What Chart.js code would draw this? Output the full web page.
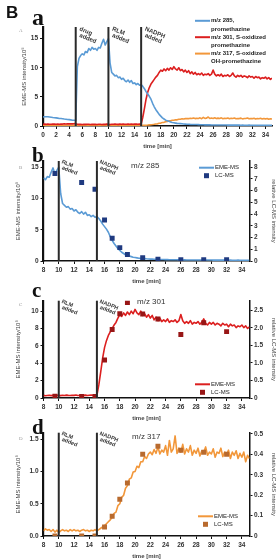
<!DOCTYPE html>
<html><head><meta charset="utf-8">
<script src="https://cdn.jsdelivr.net/npm/chart.js@4.4.1/dist/chart.umd.min.js"></script>
<style>
html,body{margin:0;padding:0;background:#fff;width:277px;height:559px;overflow:hidden;position:relative;}
canvas{position:absolute;left:0;display:block;}
</style></head><body>
<canvas id="ca" width="277" height="150" style="top:0px"></canvas>
<canvas id="cb" width="277" height="145" style="top:140px"></canvas>
<canvas id="cc" width="277" height="142" style="top:280px"></canvas>
<canvas id="cd" width="277" height="142" style="top:418px"></canvas>
<script>
// ---------------- data ----------------
const timeMin = [
 0,0.25,0.5,0.75, 1,1.25,1.5,1.75, 2,2.25,2.5,2.75, 3,3.25,3.5,3.75, 4,4.25,4.5,4.75,
 5,5.25,5.5,5.75, 6,6.25,6.5,6.75, 7,7.25,7.5,7.75, 8,8.25,8.5,8.75, 9,9.25,9.5,9.75,
 10,10.25,10.5,10.75, 11,11.25,11.5,11.75, 12,12.25,12.5,12.75, 13,13.25,13.5,13.75, 14,14.25,14.5,14.75,
 15,15.25,15.5,15.75, 16,16.25,16.5,16.75, 17,17.25,17.5,17.75, 18,18.25,18.5,18.75, 19,19.25,19.5,19.75,
 20,20.25,20.5,20.75, 21,21.25,21.5,21.75, 22,22.25,22.5,22.75, 23,23.25,23.5,23.75, 24,24.25,24.5,24.75,
 25,25.25,25.5,25.75, 26,26.25,26.5,26.75, 27,27.25,27.5,27.75, 28,28.25,28.5,28.75, 29,29.25,29.5,29.75,
 30,30.25,30.5,30.75, 31,31.25,31.5,31.75, 32,32.25,32.5,32.75, 33,33.25,33.5,33.75, 34,34.25,34.5,34.75,
 35];

// EME-MS m/z 285 (promethazine), intensity / 10^5
const mz285 = [
 1.55,1.6,1.58,1.6, 1.55,1.5,1.45,1.42, 1.4,1.35,1.3,1.28, 1.25,1.2,1.16,1.12, 1.1,1.05,1.0,0.98,
 0.95,10.2,11.6,12.1, 12.4,12.2,12.8,12.6, 13.3,13.0,13.5,13.2, 13.3,13.0,13.5,13.4, 14.2,14.9,13.9,14.5,
 15.0,10.8,9.2,8.9, 8.6,8.7,8.3,8.4, 8.0,8.2,7.8,7.6, 7.9,7.5,7.8,7.3, 7.4,7.1,7.3,7.0,
 7.1,6.8,6.4,5.9, 5.5,5.1,4.6,3.9, 3.3,2.8,2.4,2.0, 1.7,1.4,1.2,1.0, 0.9,0.8,0.7,0.6,
 0.55,0.5,0.45,0.42, 0.4,0.38,0.35,0.33, 0.3,0.3,0.28,0.27, 0.26,0.25,0.25,0.24, 0.22,0.22,0.21,0.2,
 0.2,0.19,0.2,0.18, 0.18,0.17,0.18,0.17, 0.17,0.16,0.17,0.16, 0.16,0.15,0.16,0.15, 0.15,0.15,0.16,0.15,
 0.15,0.14,0.15,0.14, 0.14,0.14,0.15,0.14, 0.14,0.13,0.14,0.13, 0.13,0.13,0.14,0.13, 0.13,0.12,0.13,0.12,
 0.12];

// EME-MS m/z 301 (S-oxidized promethazine)
const mz301 = [
 0.3,0.32,0.3,0.33, 0.31,0.3,0.34,0.32, 0.3,0.33,0.31,0.35, 0.33,0.36,0.34,0.37, 0.36,0.38,0.37,0.4,
 0.38,0.3,0.28,0.3, 0.27,0.3,0.28,0.31, 0.29,0.27,0.3,0.28, 0.3,0.26,0.29,0.31, 0.27,0.3,0.28,0.32,
 0.3,0.27,0.31,0.29, 0.33,0.3,0.28,0.32, 0.3,0.34,0.29,0.31, 0.35,0.3,0.33,0.29, 0.32,0.35,0.3,0.34,
 0.3,1.5,3.0,4.6, 5.8,6.6,7.2,7.6, 8.0,8.4,8.7,9.2, 9.6,9.4,9.8,9.5, 9.9,9.6,10.0,9.7,
 10.2,9.8,9.6,10.0, 9.5,9.7,9.3,9.6, 9.2,9.5,9.0,9.3, 8.9,9.2,8.8,9.0, 8.8,9.1,8.7,8.9,
 8.8,9.0,8.7,8.9, 9.6,8.9,8.6,8.8, 8.6,8.9,8.5,8.7, 8.6,8.8,8.5,8.7, 9.1,8.6,8.4,8.7,
 8.5,8.7,8.4,8.6, 8.5,8.3,8.6,8.4, 8.5,8.2,8.5,8.3, 8.4,8.1,8.3,8.2, 8.4,8.1,8.3,8.0,
 8.2];

// EME-MS m/z 317 (S-oxidized OH-promethazine)
const mz317 = [
 0.1,0.11,0.1,0.12, 0.11,0.1,0.12,0.11, 0.12,0.1,0.11,0.13, 0.12,0.11,0.13,0.12, 0.11,0.13,0.12,0.1,
 0.12,0.09,0.1,0.08, 0.1,0.09,0.11,0.08, 0.1,0.12,0.09,0.1, 0.08,0.11,0.09,0.1, 0.07,0.1,0.06,0.09,
 0.05,0.08,0.1,0.08, 0.09,0.07,0.1,0.08, 0.1,0.08,0.09,0.07, 0.09,0.1,0.08,0.09, 0.07,0.09,0.08,0.1,
 0.08,0.1,0.12,0.14, 0.16,0.19,0.22,0.25, 0.29,0.35,0.37,0.47, 0.5,0.6,0.63,0.74, 0.78,0.88,0.9,0.99,
 1.0,1.08,1.06,1.15, 1.15,1.23,1.2,1.27, 1.3,1.26,1.34,1.28, 1.38,1.27,1.33,1.3, 1.4,1.25,1.48,1.3,
 1.35,1.55,1.28,1.36, 1.3,1.42,1.27,1.35, 1.3,1.4,1.25,1.33, 1.28,1.36,1.24,1.32, 1.3,1.38,1.25,1.3,
 1.27,1.35,1.22,1.3, 1.28,1.36,1.23,1.3, 1.26,1.33,1.2,1.3, 1.25,1.32,1.2,1.28, 1.22,1.3,1.15,1.25,
 1.2];

// LC-MS relative intensities
const lcTimes = [9.5, 13, 14.75, 16, 17, 18, 19, 21, 23, 26, 29, 32];
const lc285 = [7.46, 6.7, 6.12, 3.5, 1.94, 1.14, 0.55, 0.29, 0.15, 0.1, 0.1, 0.1];
const lc301 = [0.05, 0.04, 0.04, 1.08, 1.95, 2.4, 2.72, 2.39, 2.25, 1.81, 2.14, 1.89];
const lc317 = [0.0, 0.0, 0.0, 0.044, 0.097, 0.18, 0.26, 0.40, 0.44, 0.42, 0.41, 0.40];

// event times and labels
const eventsA = [{at:5, lines:['drug','added']}, {at:10, lines:['RLM','added']}, {at:15, lines:['NADPH','added']}];
const eventsB = [{at:10, lines:['RLM','added']}, {at:15, lines:['NADPH','added']}];

// ---------------- styling ----------------
Chart.defaults.font.family = "'Liberation Sans', Arial, sans-serif";
Chart.defaults.color = '#333';
Chart.defaults.animation = false;
const BLUE = '#5b9bd5', RED = '#dc1f1f', ORANGE = '#f2973a';
const LC_BLUE = '#1f3a80', LC_RED = '#981616', LC_ORANGE = '#b86a2e';
const FONT = "'Liberation Sans', Arial, sans-serif";

function series(ys, tmin) {
  const out = [];
  timeMin.forEach((t, i) => { if (t >= tmin) out.push({x: t, y: ys[i]}); });
  return out;
}
function lcSeries(ys) { return lcTimes.map((t, i) => ({x: t, y: ys[i]})); }

function xScale(min, max) {
  return {
    type: 'linear', min, max,
    ticks: {stepSize: 2, autoSkip: false, maxRotation: 0, includeBounds: false, padding: 2,
            font: {size: 6.5, weight: 'bold'}, color: '#333'},
    grid: {drawOnChartArea: false, drawTicks: true, tickLength: 3, color: '#111', lineWidth: 1},
    border: {display: true, color: '#111', width: 1.5},
    title: {display: true, text: 'time [min]', font: {size: 6, weight: 'bold'}, color: '#444', padding: {top: 0, bottom: 0.5}},
    afterFit(s) { s.height = 24; }
  };
}
function yLeft(max, step, titlePad, width, fmt) {
  const t = {stepSize: step, includeBounds: false, padding: 2, font: {size: 6.5, weight: 'bold'}, color: '#333'};
  if (fmt) t.callback = fmt;
  return {
    type: 'linear', position: 'left', min: 0, max, ticks: t,
    grid: {drawOnChartArea: false, tickLength: 3, color: '#111'},
    border: {color: '#111', width: 2.2},
    title: {display: true, text: 'EME-MS intensity/10\u2075', font: {size: 6}, color: '#444', padding: {top: titlePad, bottom: 0}},
    afterFit(s) { s.width = width; }
  };
}
function yRight(max, step, fmt) {
  const t = {stepSize: step, includeBounds: false, padding: 1.5, font: {size: 6.5, weight: 'bold'}, color: '#333'};
  if (fmt) t.callback = fmt;
  return {
    type: 'linear', position: 'right', min: 0, max, ticks: t,
    grid: {drawOnChartArea: false, tickLength: 3, color: '#111'},
    border: {color: '#111', width: 1.5},
    title: {display: true, text: 'relative LC-MS intensity', font: {size: 6}, color: '#444', padding: {top: 0, bottom: 0}},
    afterFit(s) { s.width = 27.5; }
  };
}

const deco = {
  id: 'deco',
  afterDatasetsDraw(chart, args, o) {
    const {ctx, chartArea: a, scales: {x}} = chart;
    ctx.save();
    for (const m of o.events) {
      const px = x.getPixelForValue(m.at);
      ctx.strokeStyle = '#2a2a2a'; ctx.lineWidth = 2;
      ctx.beginPath(); ctx.moveTo(px, a.top); ctx.lineTo(px, a.bottom); ctx.stroke();
      ctx.save();
      ctx.translate(px + o.dx, a.top + o.dy);
      ctx.rotate(0.38);
      ctx.fillStyle = '#333'; ctx.font = 'bold ' + o.evSize + 'px ' + FONT; ctx.textBaseline = 'top';
      ctx.fillText(m.lines[0], 0, 0);
      ctx.fillText(m.lines[1], 2.5, o.evSize);
      ctx.restore();
    }
    ctx.restore();
  },
  afterDraw(chart, args, o) {
    const ctx = chart.ctx;
    ctx.save();
    // panel letters
    for (const L of o.letters) {
      ctx.font = L.font; ctx.fillStyle = L.color; ctx.textBaseline = 'alphabetic'; ctx.textAlign = 'left';
      ctx.fillText(L.text, L.x, L.y);
    }
    // title
    if (o.title) {
      ctx.font = o.title.font; ctx.fillStyle = '#333'; ctx.textBaseline = 'middle';
      ctx.fillText(o.title.text, o.title.x, o.title.y);
    }
    // legend
    const lg = o.legend;
    ctx.font = lg.font; ctx.textBaseline = 'middle'; ctx.fillStyle = '#222';
    let y = lg.y;
    for (const row of lg.rows) {
      if (row.line) {
        ctx.strokeStyle = row.line; ctx.lineWidth = 2;
        ctx.beginPath(); ctx.moveTo(lg.x0, y); ctx.lineTo(lg.x1, y); ctx.stroke();
      }
      if (row.box) {
        ctx.fillStyle = row.box; const c = (lg.x0 + lg.x1) / 2;
        ctx.fillRect(c - 2.5, y - 2.5, 5, 5);
      }
      ctx.fillStyle = '#222';
      ctx.fillText(row.text, lg.x1 + 1, y);
      y += lg.step;
    }
    ctx.restore();
  }
};

function baseOpts(padTop, padRight) {
  return {
    responsive: false, devicePixelRatio: 1, animation: false,
    layout: {padding: {top: padTop, right: padRight, left: 0, bottom: 0}},
    plugins: {legend: {display: false}, tooltip: {enabled: false}}
  };
}
const lineDs = (label, data, color, axis) => ({type: 'line', label, data, borderColor: color, backgroundColor: color,
  borderWidth: 1.6, pointRadius: 0, tension: 0, showLine: true, yAxisID: axis, borderJoinStyle: 'round'});
const lcDs = (data, color) => ({type: 'scatter', label: 'LC-MS', data, borderColor: color, backgroundColor: color,
  pointStyle: 'rect', pointRadius: 3.5, borderWidth: 0, showLine: false, yAxisID: 'y2'});

// ---------------- panel a ----------------
{
  const opts = baseOpts(27, 5);
  opts.scales = {x: xScale(0, 35), y: yLeft(17, 5, 20.4, 43)};
  opts.plugins.deco = {
    events: eventsA, dx: 5, dy: -1, evSize: 6,
    letters: [
      {text: 'B', x: 6, y: 18, font: 'bold 17px ' + FONT, color: '#111'},
      {text: 'a', x: 32, y: 25, font: "bold 24px 'Liberation Serif', serif", color: '#111'},
      {text: 'A', x: 19, y: 32, font: "5px 'Liberation Serif', serif", color: '#999'}
    ],
    legend: {font: 'bold 6px ' + FONT, x0: 195, x1: 210, y: 20.8, step: 8.2, rows: [
      {line: BLUE, text: 'm/z 285,'}, {text: 'promethazine'},
      {line: RED, text: 'm/z 301, S-oxidized'}, {text: 'promethazine'},
      {line: ORANGE, text: 'm/z 317, S-oxidized'}, {text: 'OH-promethazine'}]}
  };
  new Chart(document.getElementById('ca'), {type: 'scatter', data: {datasets: [
    lineDs('m/z 285, promethazine', series(mz285, 0), BLUE, 'y'),
    lineDs('m/z 301, S-oxidized promethazine', series(mz301, 0), RED, 'y'),
    lineDs('m/z 317, S-oxidized OH-promethazine', series(mz317, 0), ORANGE, 'y')
  ]}, options: opts, plugins: [deco]});
}

// ---------------- panels b, c, d ----------------
function makePanel(id, cfg) {
  const opts = baseOpts(cfg.padTop, 0);
  opts.scales = {x: xScale(8, 35), y: yLeft(cfg.lmax, cfg.lstep, 14.4, 43.5, cfg.lfmt), y2: yRight(cfg.rmax, cfg.rstep, cfg.rfmt)};
  opts.plugins.deco = {
    events: eventsB, dx: 4, dy: -2, evSize: 5.5,
    letters: [
      {text: cfg.letter, x: 32, y: cfg.letterY, font: "bold 21px 'Liberation Serif', serif", color: '#111'},
      {text: cfg.small, x: 19, y: cfg.smallY, font: "5px 'Liberation Serif', serif", color: '#999'}
    ],
    title: {text: cfg.title, x: cfg.titleX, y: cfg.titleY, font: '8px ' + FONT},
    legend: {font: '6px ' + FONT, x0: cfg.lgX, x1: cfg.lgX + 15, y: cfg.lgY, step: 8, rows: [
      {line: cfg.color, text: 'EME-MS'}, {box: cfg.lcColor, text: 'LC-MS'}]}
  };
  new Chart(document.getElementById(id), {type: 'scatter', data: {datasets: [
    lcDs(lcSeries(cfg.lc), cfg.lcColor),
    lineDs('EME-MS', series(cfg.eme, 8), cfg.color, 'y')
  ]}, options: opts, plugins: [deco]});
}

makePanel('cb', {padTop: 21, lmax: 16, lstep: 5, rmax: 16 * 8 / 15, rstep: 1,
  eme: mz285, lc: lc285, color: BLUE, lcColor: LC_BLUE,
  letter: 'b', letterY: 22, small: 'B', smallY: 29,
  title: 'm/z 285', titleX: 131, titleY: 25.5, lgX: 199, lgY: 27.7});
makePanel('cc', {padTop: 20.7, lmax: 11.2, lstep: 2, rmax: 2.77, rstep: 0.5,
  eme: mz301, lc: lc301, color: RED, lcColor: LC_RED,
  letter: 'c', letterY: 17, small: 'C', smallY: 26,
  title: 'm/z 301', titleX: 137, titleY: 21.5, lgX: 195, lgY: 104.3});
makePanel('cd', {padTop: 14.7, lmax: 1.6, lstep: 0.5, rmax: 0.506, rstep: 0.1,
  lfmt: v => v.toFixed(1), rfmt: v => (v === 0 ? '0' : v.toFixed(1)),
  eme: mz317, lc: lc317, color: ORANGE, lcColor: LC_ORANGE,
  letter: 'd', letterY: 15.5, small: 'D', smallY: 22,
  title: 'm/z 317', titleX: 132, titleY: 19, lgX: 198, lgY: 98.3});
</script>
</body></html>
